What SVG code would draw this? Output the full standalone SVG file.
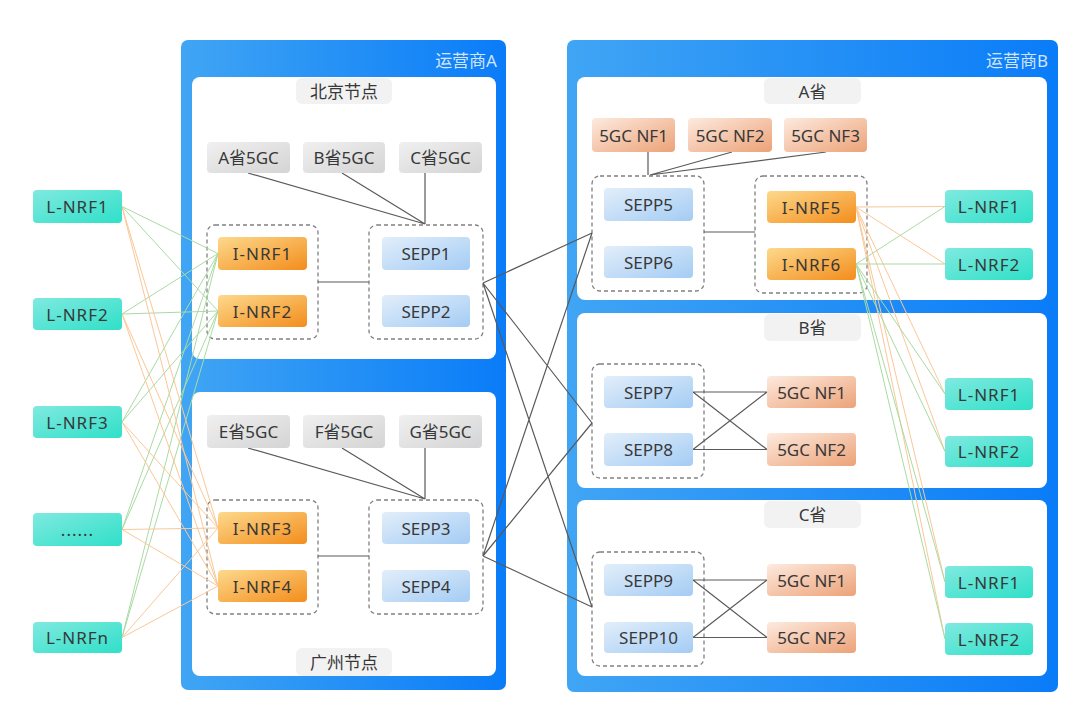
<svg xmlns="http://www.w3.org/2000/svg" width="1080" height="721" viewBox="0 0 1080 721">
<defs>
<linearGradient id="gOp" x1="0" y1="0" x2="1" y2="0"><stop offset="0" stop-color="#40a5f4"/><stop offset="1" stop-color="#0a7cf8"/></linearGradient>
<linearGradient id="gL" x1="0" y1="0" x2="1" y2="1"><stop offset="0" stop-color="#80e9e0"/><stop offset="1" stop-color="#2fe0c8"/></linearGradient>
<linearGradient id="gI" x1="0" y1="0" x2="1" y2="1"><stop offset="0" stop-color="#fdd98c"/><stop offset="1" stop-color="#f38d1c"/></linearGradient>
<linearGradient id="gS" x1="0" y1="0" x2="1" y2="1"><stop offset="0" stop-color="#e2eefa"/><stop offset="1" stop-color="#a4ccf4"/></linearGradient>
<linearGradient id="gN" x1="0" y1="0" x2="1" y2="1"><stop offset="0" stop-color="#fdeadf"/><stop offset="1" stop-color="#eca277"/></linearGradient>
<linearGradient id="gG" x1="0" y1="0" x2="1" y2="1"><stop offset="0" stop-color="#f0f0f0"/><stop offset="1" stop-color="#d4d4d4"/></linearGradient>
</defs>
<style>
text{font-family:"Noto Sans","Noto Sans CJK SC",sans-serif;font-size:17px;fill:#383838;text-anchor:middle;dominant-baseline:central}
.op{fill:url(#gOp)}
.panel{fill:#fff}
.lbl{fill:#f2f2f2}
.opl{fill:#fff;fill-opacity:0.82;font-size:17px;text-anchor:end}
.L rect{fill:url(#gL)}
.I rect{fill:url(#gI)}
.S rect{fill:url(#gS)}
.N rect{fill:url(#gN)}
.G rect{fill:url(#gG)}
.L text,.I text{letter-spacing:1px}
.grp{fill:none;stroke:#808080;stroke-width:1.3;stroke-dasharray:4 3}
.k{stroke:#5a5a5a;stroke-width:1.2;fill:none}
.gr{stroke:#a9dba2;stroke-width:1;fill:none}
.or{stroke:#fbc797;stroke-width:1;fill:none}
</style>

<g id="containers">
<rect class="op" x="181" y="40" width="325" height="650" rx="7"/>
<text class="opl" x="497" y="60">运营商A</text>
<rect class="panel" x="192" y="77" width="304" height="282" rx="8"/>
<rect class="panel" x="192" y="392" width="304" height="284" rx="8"/>
<rect class="op" x="567" y="40" width="491" height="652" rx="7"/>
<text class="opl" x="1048" y="60">运营商B</text>
<rect class="panel" x="577" y="77" width="470" height="223" rx="8"/>
<rect class="panel" x="577" y="313" width="470" height="175" rx="8"/>
<rect class="panel" x="577" y="500" width="470" height="176" rx="8"/>
</g>

<g id="labels">
<g id="lbl-beijing"><rect class="lbl" x="296" y="78" width="96" height="26" rx="6"/><text x="344" y="91">北京节点</text></g>
<g id="lbl-guangzhou"><rect class="lbl" x="296" y="648" width="96" height="28" rx="6"/><text x="344" y="662">广州节点</text></g>
<g id="lbl-a"><rect class="lbl" x="764" y="78" width="97" height="26" rx="6"/><text x="812.5" y="91">A省</text></g>
<g id="lbl-b"><rect class="lbl" x="764" y="314" width="97" height="27" rx="6"/><text x="812.5" y="327">B省</text></g>
<g id="lbl-c"><rect class="lbl" x="764" y="501" width="97" height="27" rx="6"/><text x="812.5" y="514">C省</text></g>
</g>

<g id="groups">
<rect class="grp" x="207" y="225" width="111" height="114" rx="8"/>
<rect class="grp" x="369" y="225" width="114" height="114" rx="8"/>
<rect class="grp" x="207" y="500" width="111" height="114" rx="8"/>
<rect class="grp" x="369" y="500" width="114" height="114" rx="8"/>
<rect class="grp" x="592" y="176" width="112" height="115" rx="8"/>
<rect class="grp" x="755" y="176" width="112" height="117" rx="8"/>
<rect class="grp" x="592" y="364" width="112" height="114" rx="8"/>
<rect class="grp" x="592" y="552" width="112" height="114" rx="8"/>
</g>

<g id="connectors">
<path class="gr" d="M122 206.5L218 253.5M122 206.5L218 311M122 314L218 253.5M122 314L218 311M122 422L218 253.5M122 422L218 311M122 529.5L218 253.5M122 529.5L218 311M122 637.5L218 253.5M122 637.5L218 311"/>
<path class="or" d="M122 206.5L218 528M122 206.5L218 586M122 314L218 528M122 314L218 586M122 422L218 528M122 422L218 586M122 529.5L218 528M122 529.5L218 586M122 637.5L218 528M122 637.5L218 586"/>
<path class="or" d="M856 207L945 206.5M856 207L945 264M856 207L945 394M856 207L945 451.5M856 207L945 582M856 207L945 639"/>
<path class="gr" d="M856 264L945 206.5M856 264L945 264M856 264L945 394M856 264L945 451.5M856 264L945 582M856 264L945 639"/>
<path class="k" d="M248 173L425 224M342 173L425 224M425 173L425 224"/>
<path class="k" d="M248 448L425 499M342 448L425 499M425 448L425 499"/>
<path class="k" d="M648 152L648 175M732 152L650 175M826 152L650 175"/>
<path class="k" d="M318 282H369M318 556H369M704 232H755"/>
<path class="k" d="M483 283L592 233M483 283L592 423M483 283L592 607M483 556L592 233M483 556L592 423M483 556L592 607"/>
<path class="k" d="M693 392L767 392M693 392L767 449.5M693 449.5L767 392M693 449.5L767 449.5"/>
<path class="k" d="M693 580L767 580M693 580L767 637.5M693 637.5L767 580M693 637.5L767 637.5"/>
</g>

<g id="l-nrf1" class="L"><rect x="33" y="190" width="89" height="33" rx="4"/><text x="77.5" y="206.5">L-NRF1</text></g>
<g id="l-nrf2" class="L"><rect x="33" y="298" width="89" height="32" rx="4"/><text x="77.5" y="314">L-NRF2</text></g>
<g id="l-nrf3" class="L"><rect x="33" y="406" width="89" height="32" rx="4"/><text x="77.5" y="422">L-NRF3</text></g>
<g id="l-nrf-dots" class="L"><rect x="33" y="513" width="89" height="33" rx="4"/><text x="77.5" y="529.5">......</text></g>
<g id="l-nrfn" class="L"><rect x="33" y="622" width="89" height="31" rx="4"/><text x="77.5" y="637.5">L-NRFn</text></g>

<g id="a5gc" class="G"><rect x="207" y="142" width="83" height="31" rx="4"/><text x="248.5" y="157.5">A省5GC</text></g>
<g id="b5gc" class="G"><rect x="303" y="142" width="82" height="31" rx="4"/><text x="344" y="157.5">B省5GC</text></g>
<g id="c5gc" class="G"><rect x="399" y="142" width="83" height="31" rx="4"/><text x="440.5" y="157.5">C省5GC</text></g>
<g id="i-nrf1" class="I"><rect x="218" y="237" width="89" height="33" rx="4"/><text x="262.5" y="253.5">I-NRF1</text></g>
<g id="i-nrf2" class="I"><rect x="218" y="295" width="89" height="32" rx="4"/><text x="262.5" y="311">I-NRF2</text></g>
<g id="sepp1" class="S"><rect x="382" y="237" width="88" height="33" rx="4"/><text x="426" y="253.5">SEPP1</text></g>
<g id="sepp2" class="S"><rect x="382" y="295" width="88" height="32" rx="4"/><text x="426" y="311">SEPP2</text></g>

<g id="e5gc" class="G"><rect x="207" y="415" width="83" height="33" rx="4"/><text x="248.5" y="431.5">E省5GC</text></g>
<g id="f5gc" class="G"><rect x="303" y="415" width="82" height="33" rx="4"/><text x="344" y="431.5">F省5GC</text></g>
<g id="g5gc" class="G"><rect x="399" y="415" width="83" height="33" rx="4"/><text x="440.5" y="431.5">G省5GC</text></g>
<g id="i-nrf3" class="I"><rect x="218" y="512" width="89" height="32" rx="4"/><text x="262.5" y="528">I-NRF3</text></g>
<g id="i-nrf4" class="I"><rect x="218" y="570" width="89" height="32" rx="4"/><text x="262.5" y="586">I-NRF4</text></g>
<g id="sepp3" class="S"><rect x="382" y="512" width="88" height="32" rx="4"/><text x="426" y="528">SEPP3</text></g>
<g id="sepp4" class="S"><rect x="382" y="570" width="88" height="32" rx="4"/><text x="426" y="586">SEPP4</text></g>

<g id="a-nf1" class="N"><rect x="592" y="118" width="83" height="34" rx="4"/><text x="633.5" y="135">5GC NF1</text></g>
<g id="a-nf2" class="N"><rect x="688" y="118" width="84" height="34" rx="4"/><text x="730" y="135">5GC NF2</text></g>
<g id="a-nf3" class="N"><rect x="784" y="118" width="83" height="34" rx="4"/><text x="825.5" y="135">5GC NF3</text></g>
<g id="sepp5" class="S"><rect x="604" y="188" width="89" height="33" rx="4"/><text x="648.5" y="204.5">SEPP5</text></g>
<g id="sepp6" class="S"><rect x="604" y="246" width="89" height="32" rx="4"/><text x="648.5" y="262">SEPP6</text></g>
<g id="i-nrf5" class="I"><rect x="767" y="191" width="89" height="32" rx="4"/><text x="811.5" y="207">I-NRF5</text></g>
<g id="i-nrf6" class="I"><rect x="767" y="248" width="89" height="32" rx="4"/><text x="811.5" y="264">I-NRF6</text></g>
<g id="a-l-nrf1" class="L"><rect x="945" y="190" width="88" height="33" rx="4"/><text x="989" y="206.5">L-NRF1</text></g>
<g id="a-l-nrf2" class="L"><rect x="945" y="248" width="88" height="32" rx="4"/><text x="989" y="264">L-NRF2</text></g>

<g id="sepp7" class="S"><rect x="604" y="376" width="89" height="32" rx="4"/><text x="648.5" y="392">SEPP7</text></g>
<g id="sepp8" class="S"><rect x="604" y="433" width="89" height="33" rx="4"/><text x="648.5" y="449.5">SEPP8</text></g>
<g id="b-nf1" class="N"><rect x="767" y="376" width="89" height="32" rx="4"/><text x="811.5" y="392">5GC NF1</text></g>
<g id="b-nf2" class="N"><rect x="767" y="433" width="89" height="33" rx="4"/><text x="811.5" y="449.5">5GC NF2</text></g>
<g id="b-l-nrf1" class="L"><rect x="945" y="378" width="88" height="32" rx="4"/><text x="989" y="394">L-NRF1</text></g>
<g id="b-l-nrf2" class="L"><rect x="945" y="436" width="88" height="31" rx="4"/><text x="989" y="451.5">L-NRF2</text></g>

<g id="sepp9" class="S"><rect x="604" y="564" width="89" height="32" rx="4"/><text x="648.5" y="580">SEPP9</text></g>
<g id="sepp10" class="S"><rect x="604" y="622" width="89" height="31" rx="4"/><text x="648.5" y="637.5">SEPP10</text></g>
<g id="c-nf1" class="N"><rect x="767" y="564" width="89" height="32" rx="4"/><text x="811.5" y="580">5GC NF1</text></g>
<g id="c-nf2" class="N"><rect x="767" y="622" width="89" height="31" rx="4"/><text x="811.5" y="637.5">5GC NF2</text></g>
<g id="c-l-nrf1" class="L"><rect x="945" y="566" width="88" height="32" rx="4"/><text x="989" y="582">L-NRF1</text></g>
<g id="c-l-nrf2" class="L"><rect x="945" y="623" width="88" height="32" rx="4"/><text x="989" y="639">L-NRF2</text></g>
</svg>
